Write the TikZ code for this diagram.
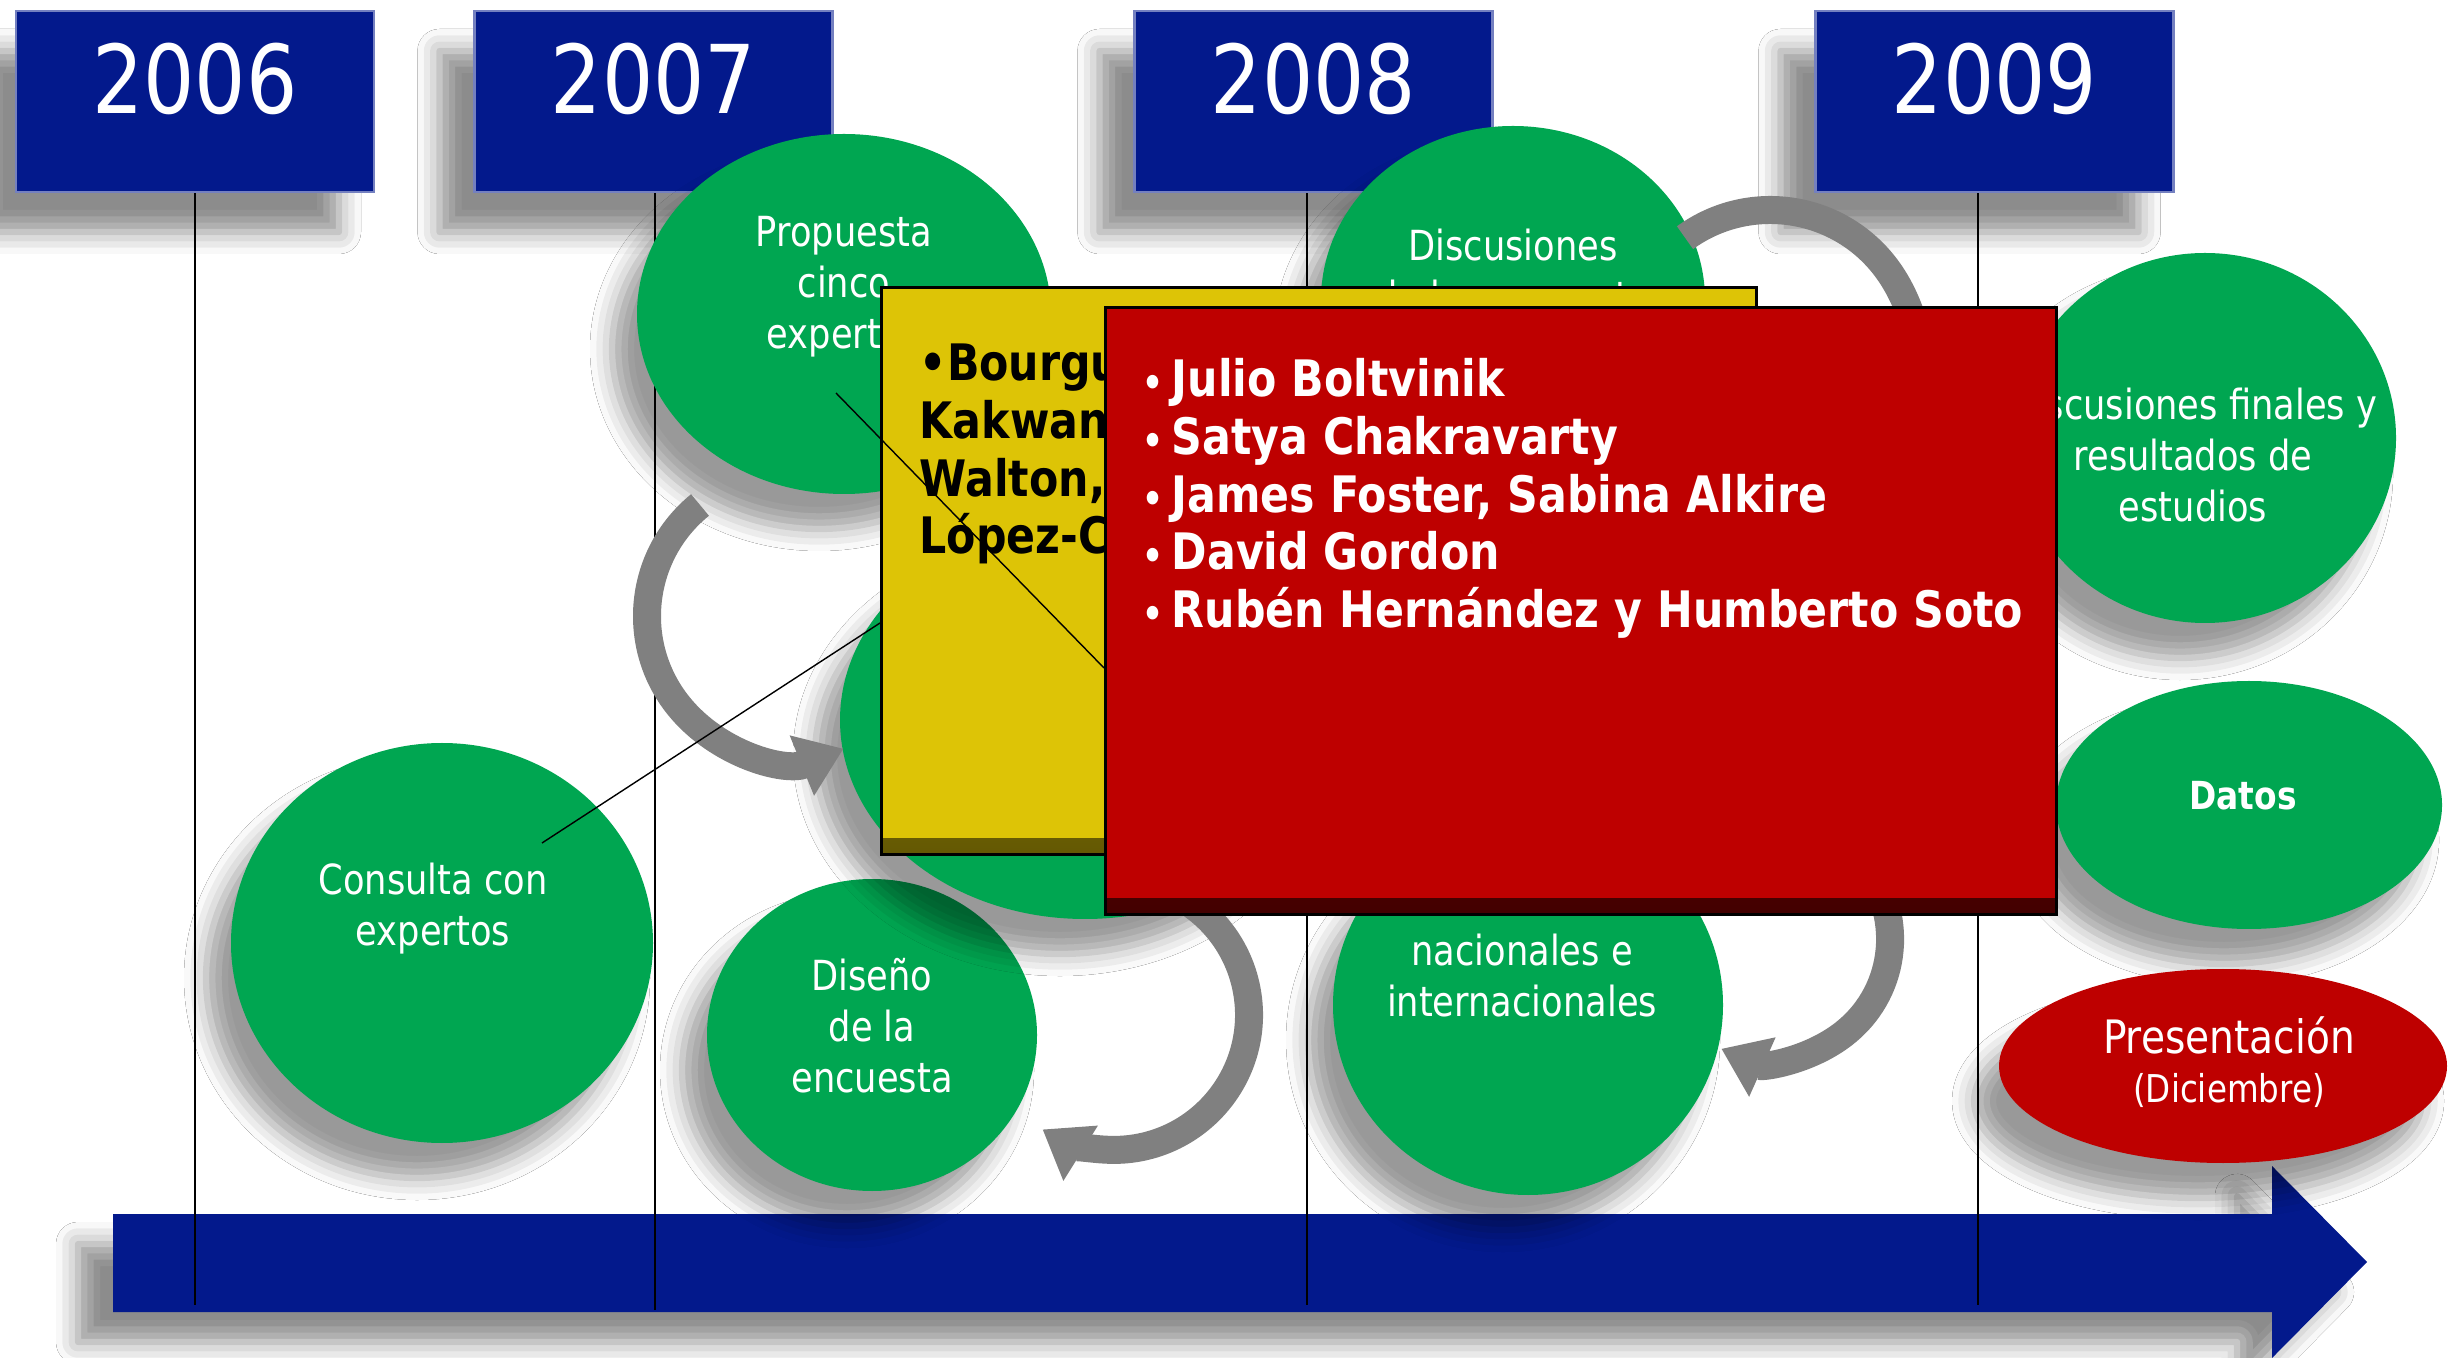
\documentclass[tikz,border=0pt]{standalone}
\usepackage{fontspec}
\setmainfont[FakeStretch=0.85]{DejaVu Sans}
\usetikzlibrary{arrows.meta, shapes.geometric, shadows.blur}
\usepackage{xcolor}

\definecolor{navy}{RGB}{3,25,140}
\definecolor{leaf}{RGB}{0,166,81}
\definecolor{mustard}{RGB}{221,196,6}
\definecolor{crimson}{RGB}{190,0,0}
\definecolor{arcgray}{RGB}{128,128,128}
\newcommand{\dotitem}{{\fontsize{11}{11}\selectfont\textbullet}\hspace{0.08cm}}

\begin{document}
\begin{tikzpicture}[>=latex]
	\tikzstyle{yearbox} = [fill=navy, draw=navy!55!white, line width=0.7pt, minimum width=3.58cm, minimum height=1.81cm, inner sep=0pt, text=white, font=\fontsize{27}{32}\selectfont, text height=0.69cm, text depth=0.44cm, blur shadow={shadow xshift=-0.35cm, shadow yshift=-0.4cm, shadow blur radius=0.22cm, shadow opacity=45}]
	\tikzstyle{bubble} = [ellipse, fill=leaf, inner sep=0pt, blur shadow={shadow xshift=-0.25cm, shadow yshift=-0.35cm, shadow blur radius=0.22cm, shadow opacity=40}]
	\tikzstyle{bubtxt} = [text=white, align=center, inner sep=0pt, font=\fontsize{11.8}{14.5}\selectfont]
	\tikzstyle{panel} = [draw=black, line width=0.9pt, anchor=north west, inner sep=0pt]
	\tikzstyle{names} = [anchor=north west, align=left, inner sep=0pt, font=\fontsize{14.3}{16.4}\selectfont\bfseries]
	\tikzstyle{loopy} = [line width=0.28cm, draw=arcgray, -{Triangle[length=0.45cm, width=0.62cm]}]

	\useasboundingbox[fill=white] (0,0) rectangle (24.63,-13.58);

	% years
	\node[yearbox]	at (1.95,-1.015)	(y2006)	{2006};
	\node[yearbox]	at (6.535,-1.015)	(y2007)	{2007};
	\node[yearbox]	at (13.135,-1.015)	(y2008)	{2008};
	\node[yearbox]	at (19.945,-1.015)	(y2009)	{2009};

	% timeline arrow
	\fill[navy, blur shadow={shadow xshift=-0.35cm, shadow yshift=-0.3cm, shadow blur radius=0.22cm, shadow opacity=45}]
		(1.13,-12.14) -- (22.72,-12.14) -- (22.72,-11.66) -- (23.67,-12.62)
		-- (22.72,-13.58) -- (22.72,-13.12) -- (1.13,-13.12) -- cycle;

	\coordinate (b2006) at (1.95,-13.05);
	\coordinate (b2007) at (6.55,-13.10);
	\coordinate (b2008) at (13.07,-13.05);
	\coordinate (b2009) at (19.78,-13.05);

	\path[thin]
	(y2006.south)			edge	(b2006)
	(y2007.south -| b2007)	edge	(b2007)
	(y2008.south -| b2008)	edge	(b2008)
	(y2009.south -| b2009)	edge	(b2009);

	% stages
	\node[bubble, minimum width=4.22cm, minimum height=4.0cm, label={[bubtxt, xshift=-0.09cm, yshift=0.34cm]center:{Consulta con\\expertos}}]		at (4.42,-9.43)		(cons)	{};
	\node[bubble, minimum width=3.30cm, minimum height=3.12cm, label={[bubtxt, yshift=0.09cm]center:{Diseño\\de la\\encuesta}}]					at (8.72,-10.35)	(dis)	{};
	\node[bubble, minimum width=4.14cm, minimum height=3.60cm, label={[bubtxt, yshift=0.27cm]center:{Propuesta\\cinco\\expertos}}]				at (8.44,-3.14)		(prop)	{};
	\node[bubble, minimum width=4.90cm, minimum height=3.98cm]																					at (10.85,-7.2)		(mid)	{};
	\node[bubble, minimum width=3.84cm, minimum height=3.48cm, label={[bubtxt, yshift=0.25cm]center:{Discusiones\\de la propuesta}}]			at (15.13,-3.0)		(disc)	{};
	\node[bubble, minimum width=3.90cm, minimum height=3.80cm, label={[bubtxt, xshift=-0.06cm, yshift=0.55cm]center:{Seminarios\\nacionales e\\internacionales}}]	at (15.28,-10.05)	(sem)	{};
	\node[bubble, minimum width=3.82cm, minimum height=3.70cm, label={[bubtxt, xshift=-0.12cm, yshift=-0.17cm]center:{Discusiones finales y\\resultados de\\estudios}}]	at (22.05,-4.38)	(fin)	{};
	\node[bubble, minimum width=3.86cm, minimum height=2.48cm, label={[bubtxt, xshift=-0.06cm, yshift=0.09cm, font=\fontsize{11}{13}\selectfont\bfseries]center:Datos}]	at (22.49,-8.05)	(dat)	{};
	\node[bubble, fill=crimson, minimum width=4.48cm, minimum height=1.94cm, label={[bubtxt, xshift=0.06cm, yshift=0.04cm, font=\fontsize{13.1}{14}\selectfont]center:{Presentación\\{\fontsize{10.9}{14}\selectfont (Diciembre)}}}]	at (22.23,-10.66)	(pres)	{};

	% turning arrows
	\draw[loopy] (7.0,-5.05) arc[start angle=129, end angle=292, radius=1.43];
	\draw[loopy] (11.815,-8.98) arc[start angle=60, end angle=-122, radius=1.35];
	\draw[loopy] (16.85,-2.377) arc[start angle=126, end angle=-25, radius=1.45];
	\draw[loopy] (18.62,-8.62) arc[start angle=40, end angle=-114, radius=1.2];

	% experts
	\coordinate (yelin) at (8.80,-6.23);
	\coordinate (redin) at (11.04,-6.68);
	\path[thin] ([shift={(1.0,1.0)}]cons.center) edge (yelin);
	\node[panel, fill=mustard, minimum width=8.75cm, minimum height=5.67cm, path picture={\shade[top color=mustard, bottom color=mustard!45!black] ([yshift=0.16cm]path picture bounding box.south west) rectangle (path picture bounding box.south east);}]	at (8.80,-2.86)	(yel)	{};
	\node[names]				at (9.19,-3.42)		(yellist)	{\textbullet Bourguignon,\\Kakwani,\\Walton,\\López-Calva};
	\path[thin] ([shift={(-0.08,-0.79)}]prop.center) edge (redin);
	\node[panel, fill=crimson, minimum width=9.51cm, minimum height=6.07cm, path picture={\shade[top color=crimson, bottom color=crimson!35!black] ([yshift=0.16cm]path picture bounding box.south west) rectangle (path picture bounding box.south east);}]	at (11.04,-3.06)	(red)	{};
	\node[names, text=white]	at (11.42,-3.58)	(redlist)	{\dotitem Julio Boltvinik\\\dotitem Satya Chakravarty\\\dotitem James Foster, Sabina Alkire\\\dotitem David Gordon\\\dotitem Rubén Hernández y Humberto Soto};
\end{tikzpicture}
\end{document}
